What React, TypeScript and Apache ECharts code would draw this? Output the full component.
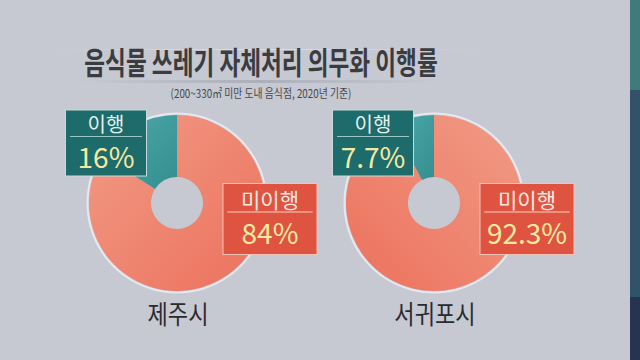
import React, { useEffect, useRef } from "react";
import * as echarts from "echarts";

const titleText = "음식물 쓰레기 자체처리 의무화 이행률";
const subtitleText = "(200~330㎡ 미만 도내 음식점, 2020년 기준)";
const cities = ["제주시", "서귀포시"];
const statusNames = ["미이행", "이행"];
const jejuValues = [84, 16];
const seogwipoValues = [92.3, 7.7];

const FONT = "'Noto Sans CJK KR', 'Noto Sans', sans-serif";

// layout constants
const centers = [
  [177, 203],
  [434, 203],
];
const labelPos = [
  // [미이행 center, 이행 center]
  [
    [270, 219],
    [106, 143],
  ],
  [
    [527, 219],
    [373, 143],
  ],
];
const boxWidths = [95, 82];

function makeLabel(dataIndex: number) {
  const isDone = dataIndex === 1;
  const w = boxWidths[dataIndex];
  const inner = w - 10;
  return {
    show: true,
    position: "outside",
    formatter: (p: any) => `{n|${p.name}}\n{hr|}\n{v|${p.value}%}`,
    backgroundColor: isDone ? "#1d6b6a" : "#de5440",
    borderColor: isDone ? "#c9d9da" : "#f0c3b8",
    borderWidth: 1,
    padding: isDone ? [0, 4, 0, 4] : [2, 4, 2, 4],
    rich: {
      n: {
        fontFamily: FONT,
        fontSize: isDone ? 20 : 21,
        lineHeight: 26,
        color: isDone ? "#e6f0ef" : "#fbe9e4",
        width: inner,
        align: "center",
      },
      hr: {
        borderColor: isDone ? "#9cc4c3" : "#f2a898",
        borderWidth: 1,
        width: inner,
        height: 0,
      },
      v: {
        fontFamily: FONT,
        fontSize: 28,
        lineHeight: isDone ? 39 : 40,
        color: "#f5e9a2",
        width: inner,
        align: "center",
      },
    },
  };
}

function makeSeries(ci: number, values: number[], gradDir: number[]) {
  const [x, y, x2, y2] = gradDir;
  return {
    type: "pie",
    center: centers[ci],
    radius: [26, 88],
    startAngle: 90,
    clockwise: true,
    silent: true,
    labelLine: { show: false },
    labelLayout: (params: any) => {
      const pos = labelPos[ci][params.dataIndex];
      return { x: pos[0], y: pos[1], align: "center", verticalAlign: "middle" };
    },
    data: values.map((v, i) => ({
      name: statusNames[i],
      value: v,
      label: makeLabel(i),
      itemStyle:
        i === 0
          ? {
              color: new echarts.graphic.LinearGradient(x, y, x2, y2, [
                { offset: 0, color: "#f19b85" },
                { offset: 1, color: "#ec715d" },
              ]),
            }
          : {
              color: new echarts.graphic.LinearGradient(0, 0, 1, 1, [
                { offset: 0, color: "#4daaab" },
                { offset: 1, color: "#358e8f" },
              ]),
            },
    })),
  };
}

export default function App() {
  const ref = useRef<HTMLDivElement>(null);
  useEffect(() => {
    if (!ref.current) return;
    const chart = echarts.init(ref.current, null, { renderer: "svg" });
    const graphics: any[] = [
      // right side strip
      { type: "rect", shape: { x: 630, y: 0, width: 10, height: 90 }, style: { fill: "#3f7b7b" } },
      { type: "rect", shape: { x: 630, y: 90, width: 10, height: 207 }, style: { fill: "#30536a" } },
      { type: "rect", shape: { x: 630, y: 297, width: 10, height: 63 }, style: { fill: "#263351" } },
      // faint top line
      {
        type: "rect",
        shape: { x: 50, y: 49, width: 435, height: 1 },
        style: {
          fill: new echarts.graphic.LinearGradient(0, 0, 1, 0, [
            { offset: 0, color: "rgba(220,223,230,0)" },
            { offset: 0.5, color: "rgba(220,223,230,1)" },
            { offset: 1, color: "rgba(220,223,230,0)" },
          ]),
        },
      },
      // title shadow band
      {
        type: "rect",
        shape: { x: 78, y: 80, width: 360, height: 3 },
        style: {
          fill: new echarts.graphic.LinearGradient(0, 0, 1, 0, [
            { offset: 0, color: "rgba(160,164,175,0)" },
            { offset: 0.5, color: "rgba(160,164,175,0.7)" },
            { offset: 1, color: "rgba(160,164,175,0)" },
          ]),
        },
      },
      {
        type: "text",
        x: 261,
        y: 61,
        scaleX: 0.73,
        style: {
          text: titleText,
          font: `bold 31px ${FONT}`,
          fill: "#3b3c40",
          align: "center",
          verticalAlign: "middle",
        },
      },
      {
        type: "text",
        x: 261,
        y: 93,
        scaleX: 0.82,
        style: {
          text: subtitleText,
          font: `12px ${FONT}`,
          fill: "#45474c",
          align: "center",
          verticalAlign: "middle",
        },
      },
    ];
    centers.forEach((c, i) => {
      graphics.push({
        type: "ring",
        shape: { cx: c[0], cy: c[1], r: 90.5, r0: 88.5 },
        style: { fill: "#e6e8ed" },
      });
      graphics.push({
        type: "text",
        x: c[0] + 1,
        y: 313,
        scaleX: 0.85,
        style: {
          text: cities[i],
          font: `26px ${FONT}`,
          fill: "#2a2b2f",
          align: "center",
          verticalAlign: "middle",
        },
      });
    });
    chart.setOption({
      animation: false,
      backgroundColor: "#c6c9d2",
      graphic: graphics,
      series: [
        makeSeries(0, jejuValues, [0, 0, 1, 1]),
        makeSeries(1, seogwipoValues, [1, 0, 0, 1]),
      ],
    });
    return () => chart.dispose();
  }, []);
  return (
    <div
      ref={ref}
      style={{ position: "fixed", left: 0, top: 0, width: 640, height: 360 }}
    />
  );
}
